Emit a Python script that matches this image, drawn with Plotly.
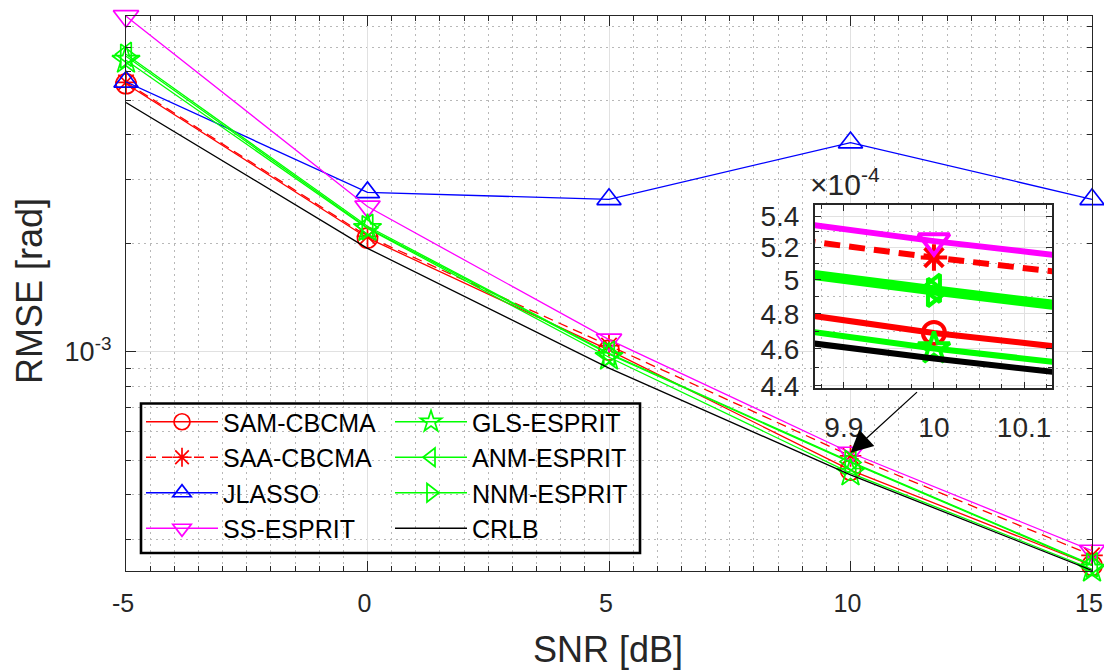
import numpy as np
import plotly.graph_objects as go

# ---------------- data ----------------
snr = [-5, 0, 5, 10, 15]
sam_cbcma = [5.55e-3, 2.07e-3, 1.01e-3, 4.69e-4, 2.55e-4]
saa_cbcma = [5.60e-3, 2.09e-3, 1.04e-3, 5.137e-4, 2.72e-4]
jlasso = [5.62e-3, 2.77e-3, 2.65e-3, 3.81e-3, 2.65e-3]
ss_esprit = [8.55e-3, 2.53e-3, 1.08e-3, 5.24e-4, 2.80e-4]
gls_esprit = [6.45e-3, 2.20e-3, 0.965e-3, 4.603e-4, 2.49e-4]
anm_esprit = [6.70e-3, 2.23e-3, 0.99e-3, 4.95e-4, 2.56e-4]
nnm_esprit = [6.62e-3, 2.21e-3, 0.985e-3, 4.925e-4, 2.55e-4]
crlb = [4.92e-3, 1.937e-3, 0.90e-3, 4.547e-4, 2.47e-4]

x_ticks = [-5, 0, 5, 10, 15]
x_ticktext = ["-5", "0", "5", "10", "15"]
y_ticks = [1e-3]
y_ticktext = ["10<sup>-3</sup>"]
y_minor = [3e-4, 4e-4, 5e-4, 6e-4, 7e-4, 8e-4, 9e-4,
           2e-3, 3e-3, 4e-3, 5e-3, 6e-3, 7e-3, 8e-3]

inset_x_range = [9.868, 10.131]
inset_x_ticks = [9.9, 10, 10.1]
inset_x_ticktext = ["9.9", "10", "10.1"]
inset_y_ticks = [4.4e-4, 4.6e-4, 4.8e-4, 5.0e-4, 5.2e-4, 5.4e-4]
inset_y_ticktext = ["4.4", "4.6", "4.8", "5", "5.2", "5.4"]
inset_y_minor = [4.5e-4, 4.7e-4, 4.9e-4, 5.1e-4, 5.3e-4]
inset_y_range = [4.388e-4, 5.477e-4]
main_y_range = [2.46e-4, 8.56e-3]

series = [
    # name, values, color, symbol, dash, legend, main size, inset size
    ("SAM-CBCMA", sam_cbcma, "#FF0000", "circle-open", "solid", "legend", 20, 22),
    ("SAA-CBCMA", saa_cbcma, "#FF0000", "asterisk-open", "10px,6px", "legend", 18, 22),
    ("JLASSO", jlasso, "#0000FF", "triangle-up-open", "solid", "legend", 21, 26),
    ("SS-ESPRIT", ss_esprit, "#FF00FF", "triangle-down-open", "solid", "legend", 22, 27),
    ("GLS-ESPRIT", gls_esprit, "#00FF00", "star-open", "solid", "legend2", 21, 24),
    ("ANM-ESPRIT", anm_esprit, "#00FF00", "triangle-left-open", "solid", "legend2", 21, 24),
    ("NNM-ESPRIT", nnm_esprit, "#00FF00", "triangle-right-open", "solid", "legend2", 21, 24),
    ("CRLB", crlb, "#000000", None, "solid", "legend2", 0, 0),
]

FONT = "Liberation Sans, Arial, Helvetica, sans-serif"
AX = "#262626"

fig = go.Figure()

for name, vals, col, sym, dash, leg, ms, ims in series:
    mode = "lines+markers" if sym else "lines"
    mk = dict(symbol=sym, size=ms, color=col, line=dict(width=1.7, color=col)) if sym else None
    fig.add_trace(go.Scatter(
        x=snr, y=vals, name=name, mode=mode, cliponaxis=False,
        line=dict(color=col, width=1.3, dash=dash),
        marker=mk, legend=leg, xaxis="x", yaxis="y",
    ))

for name, vals, col, sym, dash, leg, ms, ims in series:
    mode = "lines+markers" if sym else "lines"
    idash = "16px,9px" if dash != "solid" else "solid"
    mk = dict(symbol=sym, size=ims, color=col, line=dict(width=4, color=col)) if sym else None
    fig.add_trace(go.Scatter(
        x=snr, y=vals, name=name, mode=mode, showlegend=False,
        line=dict(color=col, width=6, dash=idash),
        marker=mk, xaxis="x2", yaxis="y2",
    ))

W, H = 1104, 671
ml, mr, mt, mb = 126, 12, 16, 100
pw, ph = W - ml - mr, H - mt - mb


def px_x(p):
    return (p - ml) / pw


def px_y(p):
    return (H - mb - p) / ph


grid_major = "#E1E1E1"
grid_minor = "#B8B8B8"
DOT = "2px,4px"

fig.update_layout(
    width=W, height=H,
    margin=dict(l=ml, r=mr, t=mt, b=mb, autoexpand=False),
    paper_bgcolor="white", plot_bgcolor="white",
    font=dict(family=FONT, color=AX),
    xaxis=dict(
        range=[-5, 15], tickvals=x_ticks, ticktext=x_ticktext, ticks="inside", ticklen=10,
        tickwidth=1.2, ticklabeloverflow="allow", automargin=False, ticklabelshift=-3,
        tickcolor=AX, showline=True, linecolor=AX, linewidth=1.3, mirror="allticks",
        showgrid=True, gridcolor=grid_major, gridwidth=1, zeroline=False,
        tickfont=dict(size=25, family=FONT, color=AX), ticklabelstandoff=10,
        minor=dict(dtick=0.5, ticks="inside", ticklen=5, tickcolor=AX, showgrid=True,
                   griddash=DOT, gridcolor=grid_minor, gridwidth=1),
    ),
    yaxis=dict(
        type="log", range=[np.log10(main_y_range[0]), np.log10(main_y_range[1])],
        tickvals=y_ticks, ticktext=y_ticktext, ticks="inside", ticklen=10, tickwidth=1.2,
        automargin=False,
        tickcolor=AX, showline=True, linecolor=AX, linewidth=1.3, mirror="allticks",
        showgrid=True, gridcolor=grid_major, gridwidth=1, zeroline=False,
        tickfont=dict(size=27, family=FONT, color=AX), ticklabelstandoff=8,
        minor=dict(tickvals=y_minor, ticks="inside", ticklen=5, tickcolor=AX, showgrid=True,
                   griddash=DOT, gridcolor=grid_minor, gridwidth=1),
    ),
    xaxis2=dict(
        domain=[px_x(815), px_x(1052)], anchor="y2", automargin=False,
        range=inset_x_range, tickvals=inset_x_ticks, ticktext=inset_x_ticktext,
        ticks="inside", ticklen=6, tickwidth=1.2,
        tickcolor=AX, showline=True, linecolor=AX, linewidth=2, mirror="allticks",
        showgrid=True, gridcolor=grid_major, gridwidth=1.3, zeroline=False,
        tickfont=dict(size=28, family=FONT, color=AX), ticklabelstandoff=13,
        minor=dict(dtick=0.025, ticks="inside", ticklen=4, tickcolor=AX, showgrid=True,
                   griddash=DOT, gridcolor=grid_minor, gridwidth=1),
    ),
    yaxis2=dict(
        domain=[px_y(388), px_y(204.5)], anchor="x2", type="log", automargin=False,
        range=[np.log10(inset_y_range[0]), np.log10(inset_y_range[1])],
        tickvals=inset_y_ticks, ticktext=inset_y_ticktext,
        ticks="inside", ticklen=6, tickwidth=1.2,
        tickcolor=AX, showline=True, linecolor=AX, linewidth=2, mirror="allticks",
        showgrid=True, gridcolor=grid_major, gridwidth=1.3, zeroline=False,
        tickfont=dict(size=28, family=FONT, color=AX), ticklabelstandoff=8,
        minor=dict(tickvals=inset_y_minor, ticks="inside", ticklen=4, tickcolor=AX,
                   showgrid=True, griddash=DOT, gridcolor=grid_minor, gridwidth=1),
    ),
    legend=dict(
        x=px_x(141), y=px_y(399), xanchor="left", yanchor="top",
        bgcolor="rgba(0,0,0,0)", borderwidth=0, itemwidth=72, tracegroupgap=0,
        font=dict(size=25, family=FONT, color="black"),
    ),
    legend2=dict(
        x=px_x(390), y=px_y(399), xanchor="left", yanchor="top",
        bgcolor="rgba(0,0,0,0)", borderwidth=0, itemwidth=72, tracegroupgap=0,
        font=dict(size=25, family=FONT, color="black"),
    ),
    shapes=[
        dict(type="rect", xref="paper", yref="paper",
             x0=px_x(141), x1=px_x(640), y0=px_y(553), y1=px_y(403.5),
             line=dict(color="black", width=2.6), fillcolor="rgba(0,0,0,0)", layer="above"),
    ],
    annotations=[
        dict(text="SNR [dB]", xref="paper", yref="paper", x=px_x(608), y=px_y(650),
             showarrow=False, font=dict(size=36, family=FONT, color=AX),
             xanchor="center", yanchor="middle"),
        dict(text="RMSE [rad]", xref="paper", yref="paper", x=px_x(29), y=px_y(291),
             showarrow=False, textangle=-90, font=dict(size=36, family=FONT, color=AX),
             xanchor="center", yanchor="middle"),
        dict(text="×10<sup>-4</sup>", xref="x2 domain", yref="y2 domain", x=0, y=1,
             xanchor="left", yanchor="bottom", xshift=-7, yshift=1, showarrow=False,
             font=dict(size=30, family=FONT, color=AX)),
        dict(x=snr[3], y=np.log10(ss_esprit[3]), xref="x", yref="y",
             ax=68, ay=-62, axref="pixel", ayref="pixel", text="", showarrow=True,
             arrowhead=2, arrowsize=3.4, arrowwidth=1.3, arrowcolor="black", standoff=0),
    ],
)

fig.write_html("out.html")
